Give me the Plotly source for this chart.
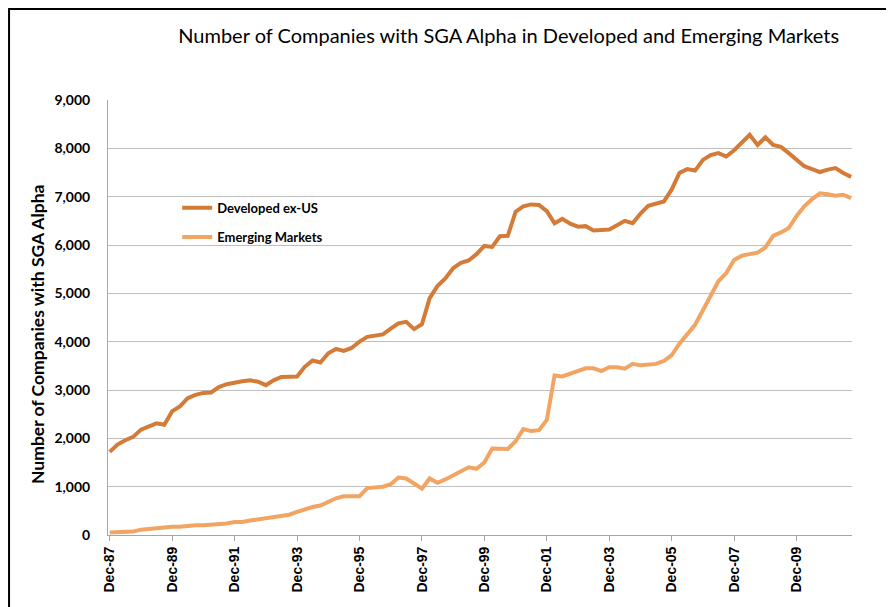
import plotly.graph_objects as go
import pandas as pd

# quarterly observations, Dec-87 .. Sep-11
quarters = pd.date_range("1987-12-31", periods=96, freq="QE")

developed_ex_us = [
    1720, 1870, 1960, 2030, 2180, 2250, 2310, 2280, 2560, 2660, 2830, 2900,
    2940, 2950, 3060, 3120, 3160, 3180, 3200, 3170, 3100, 3200, 3270, 3270,
    3280, 3480, 3610, 3570, 3760, 3850, 3810, 3870, 4000, 4100, 4130, 4150,
    4270, 4380, 4410, 4260, 4360, 4900, 5150, 5310, 5520, 5630, 5680, 5810,
    5980, 5960, 6180, 6190, 6690, 6800, 6840, 6830, 6700, 6450, 6540, 6440,
    6380, 6390, 6300, 6310, 6320, 6410, 6500, 6450, 6650, 6810, 6850, 6900,
    7150, 7490, 7570, 7540, 7760, 7860, 7900, 7830, 7960, 8120, 8280, 8070,
    8230, 8070, 8030, 7900, 7770, 7630, 7570, 7510, 7560, 7590, 7490, 7410,
]

emerging_markets = [
    50, 60, 70, 70, 110, 130, 140, 160, 170, 170, 190, 200,
    200, 210, 230, 240, 270, 270, 300, 320, 350, 380, 400, 420,
    480, 540, 580, 610, 680, 760, 800, 810, 800, 970, 990, 1000,
    1050, 1190, 1170, 1060, 960, 1170, 1080, 1150, 1240, 1310, 1400, 1370,
    1500, 1790, 1790, 1780, 1940, 2190, 2150, 2170, 2380, 3300, 3280, 3330,
    3400, 3450, 3450, 3390, 3470, 3470, 3440, 3540, 3510, 3520, 3540, 3600,
    3720, 3960, 4150, 4350, 4650, 4950, 5250, 5420, 5690, 5780, 5800, 5840,
    5950, 6190, 6260, 6350, 6600, 6800, 6950, 7070, 7050, 7020, 7040, 6970,
]

tick_dates = pd.date_range("1987-12-31", "2009-12-31", freq="2YE-DEC")
tick_labels = ["Dec-" + d.strftime("%y") for d in tick_dates]

dev_color = "#D47B38"
em_color = "#F2A462"

fig = go.Figure()
fig.add_trace(go.Scatter(
    x=quarters, y=developed_ex_us, mode="lines", name="Developed ex-US",
    line=dict(color=dev_color, width=4), legend="legend",
))
fig.add_trace(go.Scatter(
    x=quarters, y=emerging_markets, mode="lines", name="Emerging Markets",
    line=dict(color=em_color, width=4), legend="legend2",
))

legend_font = dict(family="Lato", size=13, color="black", weight="bold")

# the page body adds an 8px offset, margins are set so the plot area lands at 108..852 x 100..535
fig.update_layout(
    width=894, height=607,
    showlegend=True,
    plot_bgcolor="white", paper_bgcolor="white",
    margin=dict(l=100, r=50, t=92, b=80),
    title=dict(
        text="Number of Companies with SGA Alpha in Developed and Emerging Markets",
        x=0.560, y=0.954, xanchor="center", yanchor="middle",
        font=dict(family="Lato", size=20, color="black"),
    ),
    legend=dict(x=0.093, y=0.752, xanchor="left", yanchor="middle",
                font=legend_font, itemwidth=30, bgcolor="rgba(0,0,0,0)"),
    legend2=dict(x=0.093, y=0.685, xanchor="left", yanchor="middle",
                 font=legend_font, itemwidth=30, bgcolor="rgba(0,0,0,0)"),
    shapes=[dict(type="rect", xref="paper", yref="paper",
                 x0=-0.133, x1=1.050, y0=-0.25, y1=1.209,
                 line=dict(color="black", width=2))],
    annotations=[dict(
        text="Number of Companies with SGA Alpha", textangle=-90,
        xref="paper", yref="paper", x=-0.094, y=0.46,
        xanchor="center", yanchor="middle", showarrow=False,
        font=dict(family="Lato", size=17.5, color="black", weight="bold"),
    )],
)

fig.update_xaxes(
    range=[quarters[0] - pd.Timedelta(days=20), quarters[-1] + pd.Timedelta(days=10)],
    tickvals=tick_dates, ticktext=tick_labels, tickangle=-90,
    tickfont=dict(family="Liberation Sans", size=14, color="black", weight="bold"),
    showgrid=False, showline=True, linecolor="#A6A6A6", linewidth=1,
    ticks="outside", ticklen=5, tickcolor="#A6A6A6",
)
fig.update_yaxes(
    range=[0, 9000], dtick=1000, tickformat=",d",
    tickfont=dict(family="Lato", size=14, color="black", weight="bold"),
    showgrid=True, gridcolor="#BFBFBF", gridwidth=1,
    showline=True, linecolor="#A6A6A6", linewidth=1,
    zeroline=False, ticks="", ticklabelstandoff=14,
)

fig.write_html("out.html")
